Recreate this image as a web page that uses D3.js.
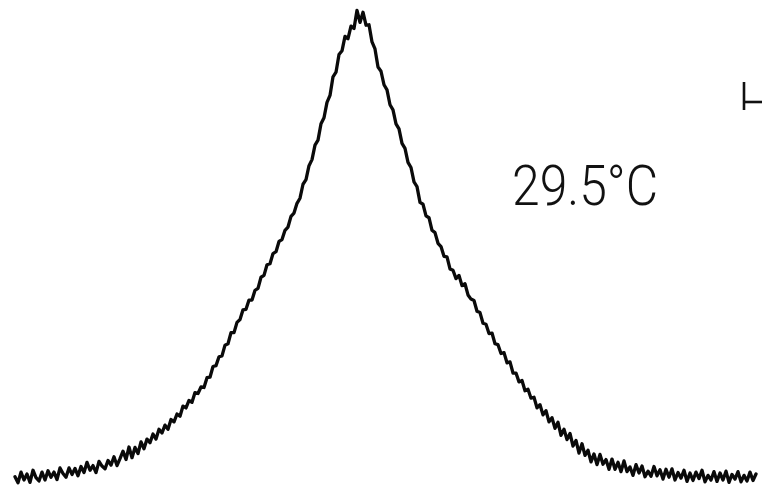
<!DOCTYPE html>
<html>
<head>
<meta charset="utf-8">
<script src="https://cdn.jsdelivr.net/npm/d3@7"></script>
<style>
  html, body { margin: 0; padding: 0; background: #ffffff; }
  svg { display: block; }
</style>
</head>
<body>
<svg id="chart" width="762" height="501"></svg>
<script>
// Recorded line shape: counts per channel (arbitrary units, peak ≈ 100)
const counts = [
  0.7, -0.6, 1.7, 0.0, 1.3, -0.5, 2.1, 0.5, -0.2, 1.7,
  0.0, 2.0, 0.6, 1.7, 0.1, 2.6, 1.4, 0.6, 2.6, 1.2, 2.5,
  0.9, 2.9, 1.6, 3.8, 2.1, 3.1, 1.6, 4.0, 3.0,
  2.4, 4.2, 3.2, 5.0, 3.1, 4.6,
  6.2, 4.4, 7.1, 4.8, 7.0,
  5.7, 8.2, 6.7, 8.8, 8.0, 9.9,
  8.8, 10.9, 10.1, 11.8, 10.9, 13.0, 12.5,
  14.2, 13.7, 15.9, 15.5, 17.1, 16.7, 18.8, 18.6, 20.0,
  19.9, 22.0, 22.1, 24.4, 24.6, 26.5, 26.7,
  29.0, 29.3, 31.7, 31.7, 33.9, 34.5,
  36.6, 36.7, 38.7, 38.7, 40.8,
  41.2, 43.6, 44.0, 46.3, 46.5,
  48.7, 49.1, 51.3, 51.7, 53.7,
  54.4, 56.7, 57.4, 59.5,
  60.6, 63.6, 64.6,
  67.6, 68.9, 72.0,
  73.1, 76.6, 77.9, 81.2,
  82.7, 86.7,
  87.7, 91.5, 92.3,
  95.4, 94.9,
  97.6, 97.1, 101.0,
  98.4, 100.6,
  97.8, 97.9,
  94.2, 92.7,
  88.8, 87.9, 85.0, 83.9,
  80.7, 79.6, 76.6,
  75.5, 72.4, 71.3,
  68.3, 67.2, 64.1, 63.1, 59.7,
  59.3, 56.8, 56.4, 53.7, 53.2, 50.9,
  50.2, 48.1, 48.0, 45.4, 45.1,
  43.3, 44.0, 41.8, 42.2, 39.8,
  38.9, 38.6, 36.3, 36.0, 33.7,
  33.5, 31.5, 31.6, 29.3, 29.1,
  27.2, 27.4, 25.2, 25.4, 23.0, 23.0,
  21.1, 21.4, 19.2, 19.5, 17.6,
  17.8, 15.5, 16.2, 14.0,
  14.9, 12.5, 13.4,
  11.1, 12.4,
  9.6, 10.9, 8.7, 10.0, 7.3, 8.5,
  5.8, 7.8, 5.3, 6.4, 3.9,
  5.6, 3.3, 5.5, 3.4, 4.4, 2.3, 4.5, 2.3,
  3.8, 1.8, 4.1, 1.8, 2.8, 1.0, 3.3, 1.5,
  3.0, 0.7, 1.9, 0.8, 2.9, 0.9, 2.2, 0.2, 2.3,
  0.6, 2.4, 0.0, 1.6, 0.4, 2.1, -0.3, 1.5,
  -0.1, 1.7, 0.3, 2.1, -0.4, 1.0, 0.0, 1.8, -0.3,
  1.5, 0.0, 1.9, -0.5, 1.2, 0.2, 1.8, -0.4, 1.0, -0.2, 1.7, -0.1, 1.3
];
const channels = d3.range(counts.length);
const temperatureLabel = ["29.5°C"];
const channelDomain = [0, 250];
const countDomain = [0, 100];

const svg = d3.select("#chart");

const x = d3.scaleLinear().domain(channelDomain).range([15, 765]);
const y = d3.scaleLinear().domain(countDomain).range([480, 15]);

const line = d3.line()
  .x((d, i) => x(channels[i]))
  .y(d => y(d));

// pen trace
svg.append("path")
  .datum(counts)
  .attr("d", line)
  .attr("fill", "none")
  .attr("stroke", "#0a0a0a")
  .attr("stroke-width", 3.3)
  .attr("stroke-linejoin", "round")
  .attr("stroke-linecap", "round");

// temperature annotation
svg.append("text")
  .data(temperatureLabel)
  .attr("x", 512)
  .attr("y", 205)
  .attr("font-family", "Roboto, 'Liberation Sans', sans-serif")
  .attr("font-weight", 300)
  .attr("font-size", 55)
  .attr("textLength", 146)
  .attr("lengthAdjust", "spacingAndGlyphs")
  .attr("fill", "#111")
  .text(d => d);

// scale marker at the right edge
const marker = svg.append("g")
  .attr("stroke", "#111")
  .attr("stroke-width", 2.6)
  .attr("fill", "none");
marker.append("line").attr("x1", 744).attr("x2", 744).attr("y1", 82).attr("y2", 110);
marker.append("line").attr("x1", 744).attr("x2", 762).attr("y1", 102).attr("y2", 102);
</script>
</body>
</html>
